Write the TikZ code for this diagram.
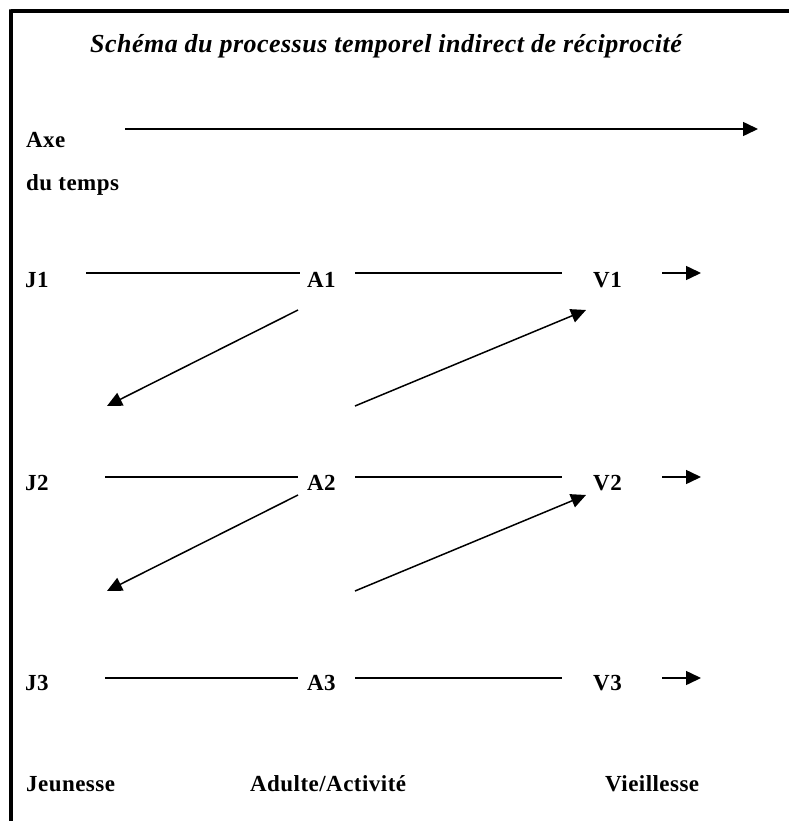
\documentclass[tikz,border=0pt]{standalone}
\usepackage{fontspec}
\setmainfont{Liberation Serif}
\usetikzlibrary{arrows.meta}
\begin{document}
\begin{tikzpicture}[x=1pt,y=-1pt,
  lbl/.style={anchor=base west,inner sep=0pt,font=\fontsize{23}{25}\selectfont\bfseries\addfontfeature{LetterSpace=2}},
  ttl/.style={anchor=base,inner sep=0pt,font=\fontsize{26}{28}\selectfont\bfseries\itshape\addfontfeature{LetterSpace=1.8}},
  conn/.style={line width=1.5pt},
  arr/.style={line width=1.5pt,-{Triangle[length=15pt,width=14pt]}},
  frame/.style={line width=4pt}]
\useasboundingbox (0,0) rectangle (789,821);
% frame
\coordinate (fb) at (11.3,821);
\coordinate (fc) at (11.3,11.3);
\coordinate (fr) at (789,11.3);
\draw[frame] (fb) -- ([yshift=2pt]fc) -- (fc) -- (fr);
% title
\node[ttl] (title) at (386,53) {Schéma du processus temporel indirect de réciprocité};
% time axis
\node[lbl] (axe) at (26,148) {Axe};
\node[lbl] (dutemps) at (26,190) {du temps};
\coordinate (t0) at (125,129);
\coordinate (t1) at (758,129);
\draw[arr] (t0) -- (t1);
% row labels
\node[lbl] (J1) at (25,287) {J1};
\node[lbl] (A1) at (307,287) {A1};
\node[lbl] (V1) at (593,287) {V1};
\node[lbl] (J2) at (25,490) {J2};
\node[lbl] (A2) at (307,490) {A2};
\node[lbl] (V2) at (593,490) {V2};
\node[lbl] (J3) at (25,690) {J3};
\node[lbl] (A3) at (307,690) {A3};
\node[lbl] (V3) at (593,690) {V3};
% bottom labels
\node[lbl] (jeun) at (26,791) {Jeunesse};
\node[lbl] (adul) at (250,791) {Adulte/Activité};
\node[lbl] (vieil) at (605,791) {Vieillesse};
% row 1 lines
\coordinate (r1a) at (86,273);  \coordinate (r1b) at (300,273);
\coordinate (r1c) at (355,273); \coordinate (r1d) at (562,273);
\coordinate (r1e) at (662,273); \coordinate (r1f) at (701,273);
\draw[conn] (r1a) -- (r1b);
\draw[conn] (r1c) -- (r1d);
\draw[arr] (r1e) -- (r1f);
% row 2 lines
\coordinate (r2a) at (105,477); \coordinate (r2b) at (298,477);
\coordinate (r2c) at (355,477); \coordinate (r2d) at (562,477);
\coordinate (r2e) at (662,477); \coordinate (r2f) at (701,477);
\draw[conn] (r2a) -- (r2b);
\draw[conn] (r2c) -- (r2d);
\draw[arr] (r2e) -- (r2f);
% row 3 lines
\coordinate (r3a) at (105,678); \coordinate (r3b) at (298,678);
\coordinate (r3c) at (355,678); \coordinate (r3d) at (562,678);
\coordinate (r3e) at (662,678); \coordinate (r3f) at (701,678);
\draw[conn] (r3a) -- (r3b);
\draw[conn] (r3c) -- (r3d);
\draw[arr] (r3e) -- (r3f);
% diagonal arrows
\coordinate (d1a) at (298,310); \coordinate (d1b) at (107,406);
\coordinate (u1a) at (355,406); \coordinate (u1b) at (586,310);
\coordinate (d2a) at (298,495); \coordinate (d2b) at (107,591);
\coordinate (u2a) at (355,591); \coordinate (u2b) at (586,495);
\draw[arr] (d1a) -- (d1b);
\draw[arr] (u1a) -- (u1b);
\draw[arr] (d2a) -- (d2b);
\draw[arr] (u2a) -- (u2b);
\end{tikzpicture}
\end{document}
